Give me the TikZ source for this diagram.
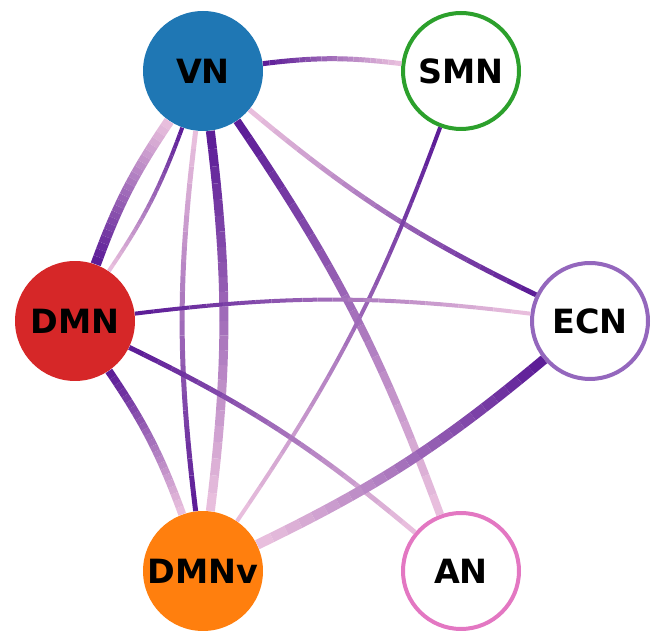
\documentclass[tikz,border=0pt]{standalone}
\usepackage{fontspec}
\setsansfont{DejaVu Sans}
\usepackage{tikz}
\usetikzlibrary{positioning}
\definecolor{Blue}{HTML}{1F77B4}
\definecolor{Red}{HTML}{D62728}
\definecolor{Orange}{HTML}{FF7F0E}
\definecolor{Green}{HTML}{2CA02C}
\definecolor{Violet}{HTML}{9467BD}
\definecolor{Pink}{HTML}{E377C2}
\definecolor{EdgeLight}{HTML}{EBC2DE}
\definecolor{EdgeDark}{HTML}{5A1A96}

% edge source -> target, light at the source end, dark at the target end
\newcommand{\gradedge}[3]{%
  \foreach \k in {0,...,23}{
    \pgfmathsetmacro{\ta}{\k/24}
    \pgfmathsetmacro{\tb}{(\k+1)/24}
    \pgfmathsetmacro{\gmix}{100*(\k+0.5)/24}
    \path (#1) to[bend right=7] coordinate[pos=\ta] (ga) coordinate[pos=\tb] (gb) (#2);
    \draw[line width=#3,EdgeDark!\gmix!EdgeLight] (ga) -- (gb);
  }}

\begin{document}
\begin{tikzpicture}[
    x=0.02cm,y=0.02cm,
    net/.style={circle,inner sep=0pt,minimum size=2.4cm,
      font=\sffamily\bfseries\fontsize{19}{22}\selectfont},
    full/.style={net,fill=#1},
    ring/.style={net,draw=#1,fill=white,line width=0.08cm,minimum size=2.32cm}
  ]
    \useasboundingbox (0,0) rectangle (658,631);
    \node[full=Blue] (vn) at (203,560) {VN};
    \node[ring=Green] (smn) at (461,560) {SMN};
    \node[full=Red] (dmn) at (75,310) {DMN};
    \node[ring=Violet] (ecn) at (590,310) {ECN};
    \node[full=Orange] (dmnv) at (203,60) {DMNv};
    \node[ring=Pink] (an) at (461,60) {AN};
    \gradedge{smn}{vn}{0.1cm}
    \gradedge{vn}{dmn}{0.21cm}
    \gradedge{dmn}{vn}{0.08cm}
    \gradedge{vn}{dmnv}{0.1cm}
    \gradedge{dmnv}{vn}{0.18cm}
    \gradedge{vn}{ecn}{0.1cm}
    \gradedge{an}{vn}{0.16cm}
    \gradedge{dmnv}{smn}{0.08cm}
    \gradedge{ecn}{dmn}{0.08cm}
    \gradedge{an}{dmn}{0.1cm}
    \gradedge{dmnv}{dmn}{0.16cm}
    \gradedge{dmnv}{ecn}{0.2cm}
  \end{tikzpicture}
\end{document}
